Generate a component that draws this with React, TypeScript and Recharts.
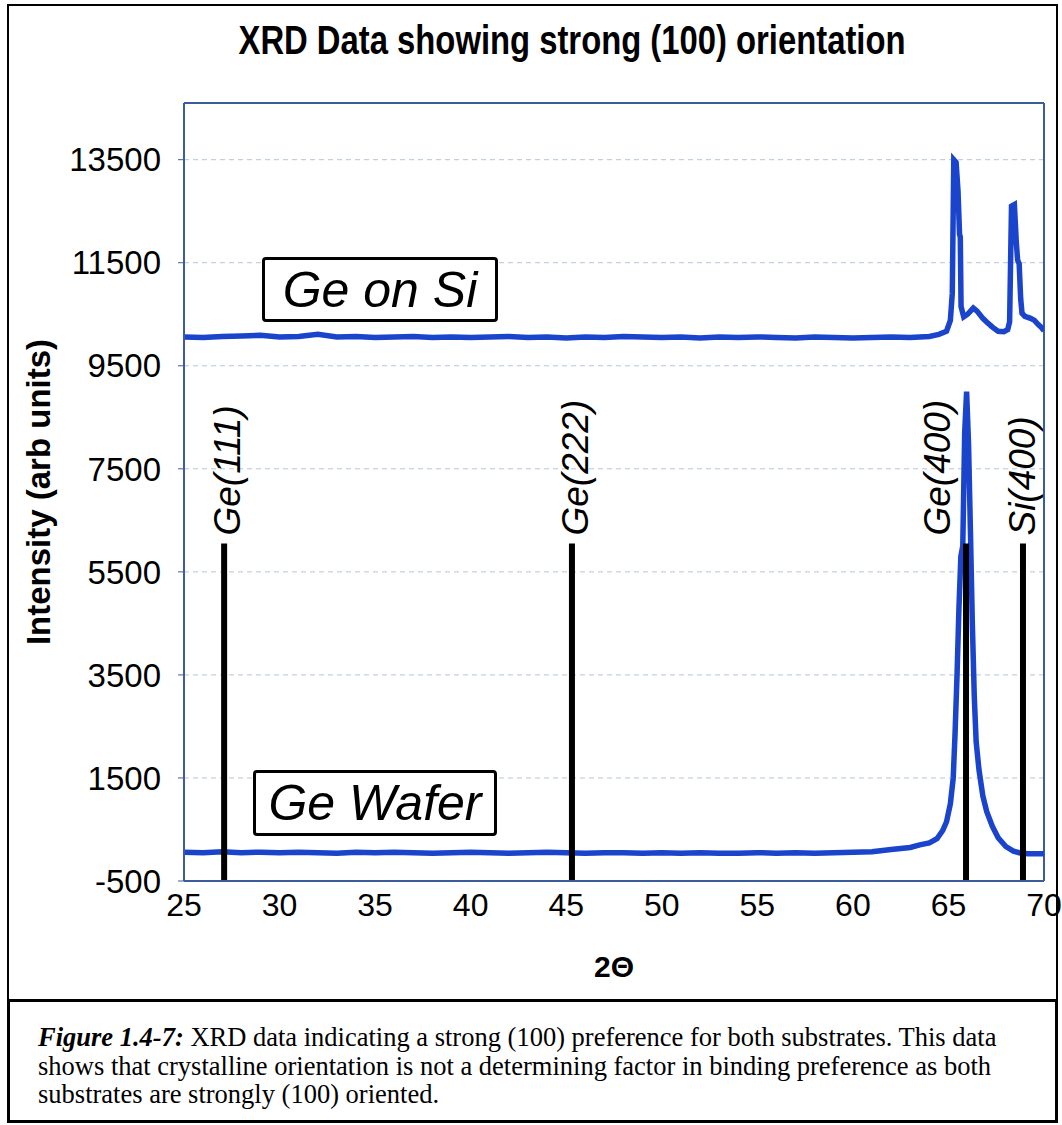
import React from 'react';
import { LineChart, Line, XAxis, YAxis, CartesianGrid, ReferenceLine } from 'recharts';

const xTicks = [25, 30, 35, 40, 45, 50, 55, 60, 65, 70];
const yTicks = [-500, 1500, 3500, 5500, 7500, 9500, 11500, 13500];

// Ge on Si scan (2theta, counts)
const geOnSiAngle = [
  25, 26, 27, 28, 29, 30, 31, 32, 33, 34, 35, 36, 37, 38, 39, 40, 41, 42, 43, 44, 45, 46, 47, 48, 49,
  50, 51, 52, 53, 54, 55, 56, 57, 58, 59, 60, 61, 62, 63, 64, 64.5, 64.9, 65.1, 65.2, 65.28, 65.4,
  65.5, 65.58, 65.62, 65.66, 65.8, 66.0, 66.3, 66.5, 66.8, 67.0, 67.3, 67.6, 67.9, 68.1, 68.2, 68.3,
  68.45, 68.55, 68.62, 68.7, 68.78, 68.85, 69.0, 69.3, 69.5, 69.7, 69.85, 70,
];
const geOnSiCounts = [
  10060, 10050, 10070, 10080, 10090, 10060, 10070, 10110, 10060, 10070, 10050, 10060, 10070, 10050,
  10060, 10050, 10060, 10070, 10050, 10060, 10040, 10060, 10050, 10070, 10060, 10050, 10060, 10040,
  10060, 10050, 10060, 10050, 10040, 10060, 10050, 10040, 10050, 10060, 10050, 10070, 10110, 10170,
  10380, 10900, 13500, 13450, 12900, 12050, 12000, 10650, 10450, 10500, 10620, 10560, 10420, 10350,
  10250, 10170, 10160, 10200, 10350, 12600, 12630, 11900, 11550, 11480, 10800, 10520, 10460, 10420,
  10380, 10300, 10250, 10180,
];

// Ge wafer scan (2theta, counts)
const geWaferAngle = [
  25, 26, 27, 28, 29, 30, 31, 32, 33, 34, 35, 36, 37, 38, 39, 40, 41, 42, 43, 44, 45, 46, 47, 48, 49,
  50, 51, 52, 53, 54, 55, 56, 57, 58, 59, 60, 61, 62, 63, 63.5, 64, 64.4, 64.7, 64.9, 65.1, 65.25,
  65.35, 65.45, 65.55, 65.65, 65.75, 65.85, 65.95, 66.05, 66.15, 66.25, 66.35, 66.45, 66.6, 66.8,
  67.0, 67.3, 67.6, 68.0, 68.4, 68.8, 69.2, 69.6, 70,
];
const geWaferCounts = [
  60, 50, 70, 50, 60, 50, 60, 50, 40, 60, 50, 60, 50, 40, 50, 60, 50, 40, 50, 60, 50, 40, 50, 50, 40,
  50, 40, 50, 40, 40, 50, 40, 50, 40, 50, 60, 70, 110, 150, 200, 240, 320, 480, 650, 1000, 1500,
  2400, 3500, 4800, 5800, 6000, 8200, 9000, 8000, 6300, 4500, 3100, 2200, 1650, 1150, 850, 560, 340,
  170, 80, 40, 30, 30, 30,
];

const peakNames = ['Ge(111)', 'Ge(222)', 'Ge(400)', 'Si(400)'];
const peakAngles = [27.1, 45.3, 65.92, 68.9];
const peakMarkerTop = 6050;

const geOnSi = geOnSiAngle.map((x, i) => ({ x, y: geOnSiCounts[i] }));
const geWafer = geWaferAngle.map((x, i) => ({ x, y: geWaferCounts[i] }));

const sans = '"Liberation Sans", Arial, sans-serif';
const blue = '#1a44cc';
const frame = '#3d5c9c';
// where the rotated label baseline sits relative to its line
const labelDx = [16, 16, -16, 12];

function PeakLabel(props: any) {
  const { viewBox, text, dx } = props;
  const x = viewBox.x + dx;
  const y = viewBox.y - 8;
  return (
    <text
      x={x}
      y={y}
      transform={`rotate(-90, ${x}, ${y})`}
      textAnchor="start"
      fontSize={37}
      fontStyle="italic"
      fontFamily={sans}
      fill="#000"
    >
      {text}
    </text>
  );
}

const boxStyle: React.CSSProperties = {
  position: 'absolute',
  boxSizing: 'border-box',
  border: '3px solid #000',
  borderRadius: 4,
  background: '#fff',
  fontFamily: sans,
  fontStyle: 'italic',
  fontSize: 50,
  display: 'flex',
  alignItems: 'center',
  justifyContent: 'center',
};

export default function App() {
  return (
    <div style={{ position: 'absolute', left: 0, top: 0, width: 1062, height: 1125, background: '#fff' }}>
      <div
        style={{
          position: 'absolute',
          left: 7,
          top: 4,
          width: 1051,
          height: 997,
          boxSizing: 'border-box',
          border: '2px solid #000',
        }}
      />
      <div
        style={{
          position: 'absolute',
          left: 572,
          top: 18,
          transform: 'translateX(-50%) scaleX(0.82)',
          fontFamily: sans,
          fontWeight: 'bold',
          fontSize: 40,
          whiteSpace: 'nowrap',
        }}
      >
        XRD Data showing strong (100) orientation
      </div>
      <div style={{ position: 'absolute', left: 0, top: 0 }}>
        <LineChart width={1062} height={1000} margin={{ top: 103, right: 18, bottom: 19, left: 24 }}>
          <CartesianGrid vertical={false} stroke="#b4c6d8" strokeDasharray="5 4" />
          <XAxis
            dataKey="x"
            type="number"
            domain={[25, 70]}
            ticks={xTicks}
            height={100}
            tickSize={0}
            tickMargin={12}
            axisLine={{ stroke: frame, strokeWidth: 2 }}
            tick={{ fill: '#000', fontSize: 32, fontFamily: sans }}
            allowDataOverflow
            label={{
              value: '2Θ',
              position: 'insideBottom',
              offset: 4,
              style: { fill: '#000', fontSize: 30, fontWeight: 'bold', fontFamily: sans },
            }}
          />
          <YAxis
            type="number"
            domain={[-500, 14600]}
            ticks={yTicks}
            width={160}
            tickSize={6}
            tickMargin={17}
            axisLine={{ stroke: frame, strokeWidth: 2 }}
            tickLine={{ stroke: frame }}
            tick={{ fill: '#000', fontSize: 33, fontFamily: sans }}
            allowDataOverflow
            label={{
              value: 'Intensity (arb units)',
              angle: -90,
              position: 'insideLeft',
              offset: 14,
              style: { textAnchor: 'middle', fill: '#000', fontSize: 33, fontWeight: 'bold', fontFamily: sans },
            }}
          />
          <ReferenceLine y={14600} stroke={frame} strokeWidth={2} />
          <ReferenceLine x={70} stroke={frame} strokeWidth={2} />
          <Line data={geOnSi} dataKey="y" stroke={blue} strokeWidth={5.5} dot={false} isAnimationActive={false} />
          <Line data={geWafer} dataKey="y" stroke={blue} strokeWidth={5.5} dot={false} isAnimationActive={false} />
          {peakAngles.map((a, i) => (
            <ReferenceLine
              key={peakNames[i]}
              segment={[
                { x: a, y: -500 },
                { x: a, y: peakMarkerTop },
              ]}
              stroke="#000"
              strokeWidth={6}
              label={<PeakLabel text={peakNames[i]} dx={labelDx[i]} />}
            />
          ))}
        </LineChart>
      </div>
      <div style={{ ...boxStyle, left: 262, top: 257, width: 236, height: 65 }}>Ge on Si</div>
      <div style={{ ...boxStyle, left: 253, top: 770, width: 244, height: 66 }}>Ge Wafer</div>
      <div
        style={{
          position: 'absolute',
          left: 7,
          top: 999,
          width: 1051,
          height: 124,
          boxSizing: 'border-box',
          border: '3px solid #000',
          background: '#fff',
          padding: '21px 0 0 28px',
          fontFamily: '"Liberation Serif", "Times New Roman", serif',
          fontSize: 26.5,
          lineHeight: '28.5px',
          whiteSpace: 'nowrap',
        }}
      >
        <div>
          <b>
            <i>Figure 1.4-7:</i>
          </b>{' '}
          XRD data indicating a strong (100) preference for both substrates. This data
        </div>
        <div>shows that crystalline orientation is not a determining factor in binding preference as both</div>
        <div>substrates are strongly (100) oriented.</div>
      </div>
    </div>
  );
}
